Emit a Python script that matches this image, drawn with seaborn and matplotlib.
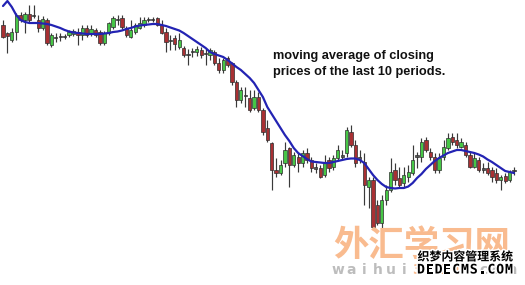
import numpy as np
import pandas as pd
import matplotlib
matplotlib.use("Agg")
import matplotlib.pyplot as plt
import matplotlib.patheffects as pe
import seaborn as sns

# ---- data (price units) ----
opens = [275, 267, 260, 268, 285, 280, 286, 285, 280, 272,
         280, 255, 263, 263, 264, 265, 266, 268, 265, 272,
         267, 270, 268, 257, 267, 273, 281, 282, 272, 263,
         268, 272, 275, 280, 281, 282, 275, 268, 260, 262,
         253, 252, 246, 248, 248, 250, 247, 245, 248, 237,
         230, 242, 237, 218, 200, 205, 202, 192, 203, 190,
         172, 157, 130, 127, 137, 152, 135, 143, 137, 147,
         140, 133, 132, 125, 140, 133, 142, 145, 147, 168,
         155, 143, 138, 113, 120, 95, 77, 100, 110, 130,
         122, 117, 123, 127, 143, 143, 160, 148, 143, 130,
         143, 152, 163, 160, 153, 155, 145, 133, 140, 132,
         132, 130, 127, 120, 124, 120, 129]
highs = [280, 268, 272, 287, 288, 288, 295, 295, 285, 284,
         282, 267, 267, 267, 266, 270, 271, 272, 275, 275,
         275, 272, 270, 269, 278, 284, 285, 285, 274, 280,
         277, 283, 283, 283, 283, 283, 280, 272, 265, 265,
         267, 254, 251, 252, 254, 253, 252, 252, 250, 242,
         242, 244, 238, 220, 213, 213, 210, 210, 208, 192,
         180, 158, 142, 140, 158, 153, 148, 147, 150, 152,
         143, 137, 135, 145, 143, 145, 155, 150, 173, 175,
         160, 150, 147, 123, 123, 100, 105, 115, 142, 137,
         133, 133, 135, 155, 148, 162, 163, 152, 147, 147,
         160, 167, 167, 167, 162, 158, 148, 147, 143, 137,
         138, 133, 132, 125, 127, 130, 133]
lows = [262, 247, 258, 260, 278, 267, 278, 282, 268, 270,
        255, 253, 258, 259, 261, 263, 264, 255, 260, 263,
        264, 263, 255, 255, 265, 271, 275, 271, 263, 262,
        266, 271, 273, 278, 278, 274, 266, 248, 250, 250,
        251, 243, 235, 243, 244, 242, 235, 240, 235, 227,
        227, 233, 215, 193, 197, 193, 188, 190, 188, 165,
        158, 110, 123, 125, 133, 113, 133, 128, 133, 137,
        128, 127, 122, 123, 128, 130, 140, 140, 143, 153,
        133, 137, 95, 92, 70, 75, 72, 95, 108, 115,
        112, 113, 118, 125, 132, 138, 148, 140, 127, 127,
        140, 150, 155, 152, 152, 143, 132, 132, 128, 127,
        125, 118, 117, 110, 117, 118, 125]
closes = [263, 264, 268, 285, 280, 286, 280, 284, 272, 281,
          257, 265, 262, 264, 263, 268, 269, 265, 272, 265,
          271, 265, 257, 267, 277, 282, 280, 273, 265, 270,
          275, 277, 280, 281, 280, 275, 267, 258, 259, 256,
          260, 245, 245, 249, 251, 245, 246, 250, 237, 230,
          240, 235, 218, 200, 210, 204, 190, 203, 190, 168,
          160, 130, 127, 135, 150, 135, 145, 137, 147, 140,
          132, 131, 123, 138, 132, 142, 150, 143, 170, 155,
          137, 141, 115, 120, 73, 77, 100, 110, 128, 120,
          115, 125, 128, 140, 145, 158, 150, 143, 130, 142,
          153, 162, 158, 155, 158, 145, 133, 142, 130, 130,
          127, 123, 120, 123, 119, 128, 130]
# 10-period moving average as drawn on the picture
ma10 = [294, 299, 293, 285, 280, 278, 277, 277, 277, 276.5,
        276, 275, 273.5, 272, 270, 268.5, 267.5, 267, 266.5, 266,
        266, 266, 266, 266.5, 267, 268, 268.5, 269.5, 271, 272,
        273.5, 274.5, 275, 275.5, 276, 276, 275, 274, 272.5, 271,
        269.5, 267, 264, 261, 258, 255, 252, 248, 246, 244.5,
        243, 240, 236.5, 233, 230, 226, 222, 217, 210, 203,
        193, 186, 179, 172, 165, 159, 152, 147, 144, 141,
        138.5, 138, 137.5, 137, 137, 138, 139, 140, 141, 141.5,
        141.5, 140, 137, 131, 125, 120, 116, 113, 112, 111.5,
        112, 112, 113.5, 117, 122, 126, 131, 135, 139, 142,
        144.5, 147, 148.5, 150, 150, 149, 148, 147, 145.5, 143.5,
        140.5, 138, 135, 132, 129, 128, 127]

annotation = ["moving average of closing", "prices of the last 10 periods."]

df = pd.DataFrame({"open": opens, "high": highs, "low": lows,
                   "close": closes, "ma": ma10})
df["idx"] = np.arange(len(df))

# ---- figure ----
sns.set_style("white")
plt.rcParams["font.family"] = ["Liberation Sans", "DejaVu Sans"]

W, H = 525, 285
fig = plt.figure(figsize=(W / 100, H / 100), dpi=100)
fig.patch.set_facecolor("white")
ax = fig.add_axes([0, 0, 1, 1])
ax.set_facecolor("white")

UP = "#46c646"
DOWN = "#a83033"
EDGE = "#2e2e2e"

up = df["close"] >= df["open"]
ax.vlines(df["idx"], df["low"], df["high"], color="#3a3a3a", linewidth=0.85, zorder=1)
body_lo = np.minimum(df["open"], df["close"])
body_h = np.maximum(np.abs(df["close"] - df["open"]), 1.2)
colors = np.where(up, UP, DOWN)
small = np.abs(df["close"] - df["open"]) <= 2
colors = np.where(small, "#555555", colors)
ax.bar(df["idx"], body_h, bottom=body_lo, width=0.74, color=colors,
       edgecolor=EDGE, linewidth=0.5, zorder=2)

sns.lineplot(data=df, x="idx", y="ma", color="#2323b3", linewidth=1.6,
             ax=ax, zorder=3, legend=False)

# pixel mapping: x_px = 3 + 4.405*i ; price = 300 - y_px
ax.set_xlim((0 - 3) / 4.405, (W - 3) / 4.405)
ax.set_ylim(300 - H, 300)
ax.axis("off")


def fx(px):
    return px / W


def fy(py):
    return 1 - py / H


fig.text(fx(273), fy(59.5), annotation[0], fontsize=9.2, fontweight="bold",
         color="#111111", va="baseline", ha="left")
fig.text(fx(273), fy(75.5), annotation[1], fontsize=9.2, fontweight="bold",
         color="#111111", va="baseline", ha="left")

# ---- watermark ----
fig.text(fx(422), fy(245), "外汇学习网", fontsize=25.5, fontweight="bold",
         family=["Noto Sans CJK SC", "DejaVu Sans"], color="#f9bb8f",
         ha="center", va="center", zorder=5)
site = "waihui3721.com"
for k, ch in enumerate(site):
    col = "#f9bb8f" if ch.isdigit() else "#bdbdbd"
    fig.text(fx(338 + k * 13.2), fy(274), ch, fontsize=10, fontweight="bold",
             family=["DejaVu Sans"], color=col, ha="center", va="baseline", zorder=5)
stroke = [pe.withStroke(linewidth=2.2, foreground="white")]
fig.text(fx(465), fy(257), "织梦内容管理系统", fontsize=8.6, fontweight="bold",
         family=["Noto Sans CJK SC", "DejaVu Sans"], color="black",
         ha="center", va="center", path_effects=stroke, zorder=6)
for k, ch in enumerate("DEDECMS.COM"):
    fig.text(fx(421 + k * 8.8), fy(270), ch, fontsize=9.5, fontweight="bold",
             family=["DejaVu Sans Mono"], color="black", ha="center", va="center",
             path_effects=stroke, zorder=6)

fig.savefig("out.png", dpi=100, facecolor="white")
